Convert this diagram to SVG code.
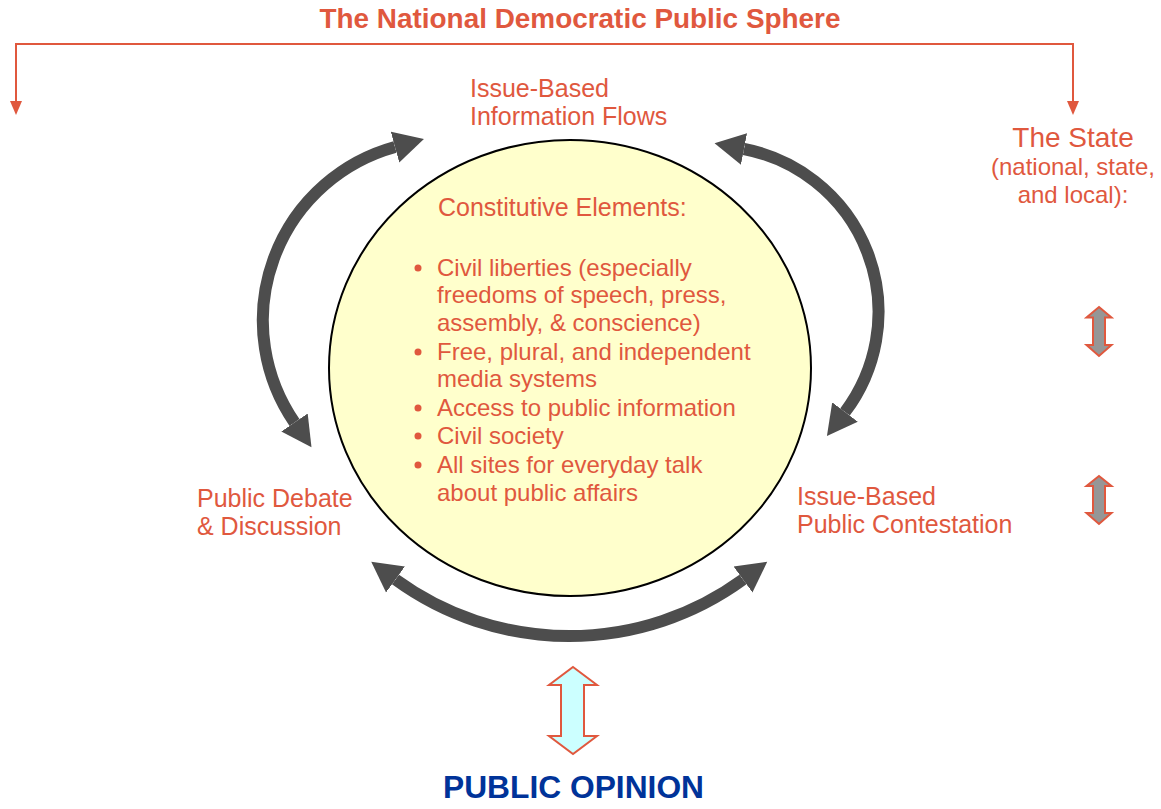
<svg xmlns="http://www.w3.org/2000/svg" width="1161" height="809" viewBox="0 0 1161 809">
<style>
text{font-family:"Liberation Sans",Arial,Helvetica,sans-serif;fill:#E0583E}
.t{font-size:28px;font-weight:bold}
.lbl{font-size:25px}
.li{font-size:24px}
.st{font-size:24px;text-anchor:middle}
.po{font-size:31px;font-weight:bold;fill:#003399;text-anchor:middle}
.arc{fill:none;stroke:#4D4D4D;stroke-width:12;marker-start:url(#ah);marker-end:url(#ah)}
.br{fill:none;stroke:#E0583E;stroke-width:2}
.dbl{stroke:#E0583E;stroke-width:2;stroke-linejoin:miter}
</style>
<defs>
<marker id="ah" markerUnits="userSpaceOnUse" markerWidth="31" markerHeight="34" refX="0" refY="17" orient="auto-start-reverse" viewBox="0 0 31 34">
<path d="M0,1 L30,17 L0,33 z" fill="#4D4D4D"/>
</marker>
</defs>
<rect width="1161" height="809" fill="#fff"/>

<g id="title">
<text class="t" x="580" y="28" text-anchor="middle" textLength="521" lengthAdjust="spacingAndGlyphs">The National Democratic Public Sphere</text>
</g>

<g id="connectors">
<path class="br" d="M16,102 V44 H1073 V102"/>
<path d="M10,101 L22,101 L16,115 z" fill="#E0583E"/>
<path d="M1067,101 L1079,101 L1073,115 z" fill="#E0583E"/>
<path class="arc" d="M395,147 A180,180 0 0 0 294.5,422.5"/>
<path class="arc" d="M744,149 A166,166 0 0 1 845,412"/>
<path class="arc" d="M395.5,579.5 A295,295 0 0 0 743,579.5"/>
</g>

<g id="constitutive-elements">
<ellipse cx="570" cy="368" rx="241" ry="228" fill="#FFFFCC" stroke="#000" stroke-width="2"/>
<text class="lbl" x="438" y="216">Constitutive Elements:</text>
<g fill="#E0583E">
<circle cx="418" cy="268" r="3.5"/>
<circle cx="418" cy="352" r="3.5"/>
<circle cx="418" cy="408" r="3.5"/>
<circle cx="418" cy="436" r="3.5"/>
<circle cx="418" cy="465" r="3.5"/>
</g>
<text class="li" x="437" y="276">Civil liberties (especially</text>
<text class="li" x="437" y="303">freedoms of speech, press,</text>
<text class="li" x="437" y="331">assembly, &amp; conscience)</text>
<text class="li" x="437" y="360">Free, plural, and independent</text>
<text class="li" x="437" y="387">media systems</text>
<text class="li" x="437" y="416">Access to public information</text>
<text class="li" x="437" y="444">Civil society</text>
<text class="li" x="437" y="473">All sites for everyday talk</text>
<text class="li" x="437" y="501">about public affairs</text>
</g>

<g id="info-flows">
<text class="lbl" x="470" y="97">Issue-Based</text>
<text class="lbl" x="470" y="125">Information Flows</text>
</g>

<g id="public-debate">
<text class="lbl" x="197" y="507">Public Debate</text>
<text class="lbl" x="197" y="535">&amp; Discussion</text>
</g>

<g id="public-contestation">
<text class="lbl" x="797" y="505">Issue-Based</text>
<text class="lbl" x="797" y="533">Public Contestation</text>
</g>

<g id="the-state">
<text x="1073" y="147" font-size="28" text-anchor="middle">The State</text>
<text class="st" x="1073" y="175">(national, state,</text>
<text class="st" x="1073" y="203">and local):</text>
<polygon class="dbl" fill="#969696" points="1099,307 1111.5,317.5 1105,317.5 1105,345 1111.5,345 1099,356 1086.5,345 1093,345 1093,317.5 1086.5,317.5"/>
<polygon class="dbl" fill="#969696" points="1099,476 1111.5,486 1105,486 1105,513 1111.5,513 1099,524 1086.5,513 1093,513 1093,486 1086.5,486"/>
</g>

<g id="public-opinion">
<polygon class="dbl" fill="#CCFFFF" points="573,667 597,685 584,685 584,736 597,736 573,754 549,736 561,736 561,685 549,685"/>
<text class="po" x="573.5" y="798" textLength="261" lengthAdjust="spacingAndGlyphs">PUBLIC OPINION</text>
</g>
</svg>
